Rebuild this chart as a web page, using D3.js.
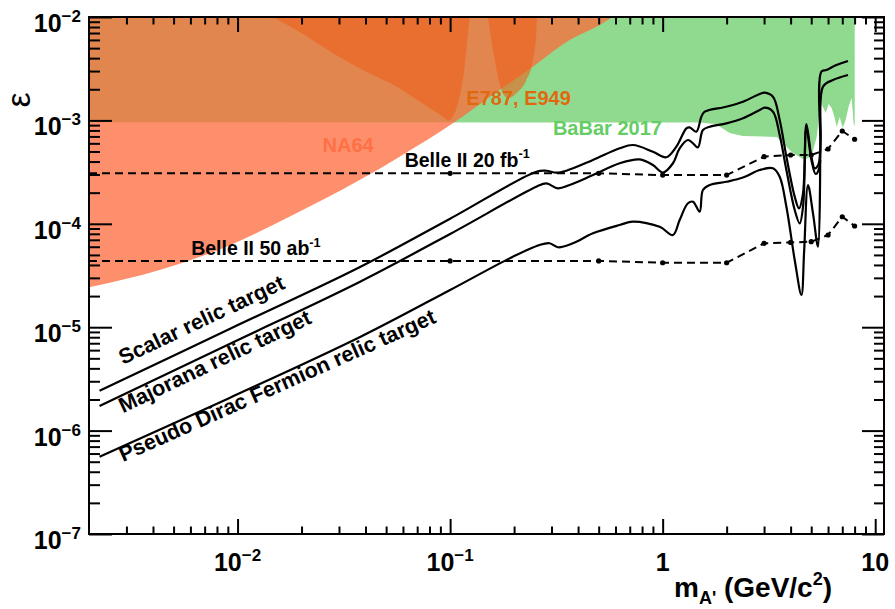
<!DOCTYPE html>
<html>
<head>
<meta charset="utf-8">
<script src="https://cdn.jsdelivr.net/npm/d3@7"></script>
<style>
  html, body { margin: 0; padding: 0; background: #fff; }
  svg { display: block; font-family: "Liberation Sans", Arial, Helvetica, sans-serif; font-weight: bold; }
</style>
</head>
<body>
<div id="chart"></div>
<script>
(function () {
  "use strict";

  // ---- data ----
  var na64Mass = [0.002, 0.0043, 0.00885, 0.0182, 0.0375, 0.0579, 0.1031, 0.171, 0.2453, 0.3649, 0.5054, 0.5817];
  var na64Eps  = [2.43e-5, 3.57e-5, 6.0e-5, 1.217e-4, 2.65e-4, 4.46e-4, 9.37e-4, 1.968e-3, 3.31e-3, 5.99e-3, 8.37e-3, 1e-2];

  var babarMass = [0.002, 1.493, 1.776, 2.067, 2.379, 3.44, 3.67, 4.09, 4.66, 5.03, 5.305, 5.54, 5.85, 6.04, 6.24, 6.45, 6.59, 6.81, 7.03, 7.26, 7.51, 7.75, 7.92, 8.01];
  var babarEps  = [9.6e-4, 9.54e-4, 9.23e-4, 7.55e-4, 7.07e-4, 6.91e-4, 6.04e-4, 4.84e-4, 4.14e-4, 4.63e-4, 6.91e-4, 1.506e-3, 1.18e-3, 1.441e-3, 1.318e-3, 1.055e-3, 8.63e-4, 1.079e-3, 8.44e-4, 1.009e-3, 1.378e-3, 1.646e-3, 9.23e-4, 8.83e-4];

  var e787aMass = [0.01462, 0.01957, 0.028, 0.0403, 0.0579, 0.0645, 0.0801, 0.0925, 0.0985, 0.105, 0.1109, 0.117, 0.1213, 0.1235];
  var e787aEps  = [1e-2, 7.16e-3, 4.49e-3, 2.96e-3, 2.04e-3, 1.76e-3, 1.318e-3, 1.086e-3, 9.98e-4, 1.171e-3, 1.695e-3, 3.31e-3, 6.96e-3, 1e-2];
  var e787bMass = [0.1506, 0.159, 0.1679, 0.1772, 0.1871, 0.2049, 0.2284, 0.2453, 0.2544, 0.2562];
  var e787bEps  = [1e-2, 4.8e-3, 2.65e-3, 1.83e-3, 1.635e-3, 1.83e-3, 2.46e-3, 3.84e-3, 6.96e-3, 1e-2];

  var belleMass  = [0.002, 0.1, 0.5, 1, 2, 3, 4, 5, 6, 7, 8];
  var belle20Eps = [3.08e-4, 3.08e-4, 3.08e-4, 2.96e-4, 2.96e-4, 4.46e-4, 4.63e-4, 4.63e-4, 5.29e-4, 7.9e-4, 6.57e-4];
  var belle50Eps = [4.37e-5, 4.37e-5, 4.37e-5, 4.2e-5, 4.2e-5, 6.48e-5, 6.6e-5, 6.71e-5, 7.79e-5, 1.17e-4, 9.52e-5];

  var scalarMass = [0.002242, 0.00917, 0.0375, 0.1, 0.2544, 0.2836, 0.3161, 0.3523, 0.4699, 0.6276, 0.7247, 0.9002, 1.041, 1.160, 1.293, 1.340, 1.441, 1.521, 1.577, 1.994, 2.387, 2.861, 3.020, 3.304, 3.553, 3.821, 4.181, 4.379, 4.574, 4.746, 5.010, 5.192, 5.393, 5.510, 5.582, 5.893, 6.570, 7.447];
  var scalarEps  = [2.43e-6, 9.61e-6, 3.80e-5, 1.12e-4, 3.19e-4, 3.26e-4, 3.12e-4, 3.26e-4, 4.14e-4, 5.37e-4, 5.78e-4, 4.98e-4, 4.40e-4, 5.57e-4, 8.38e-4, 8.57e-4, 7.78e-4, 1.086e-3, 1.214e-3, 1.357e-3, 1.517e-3, 1.80e-3, 1.853e-3, 1.695e-3, 1.009e-3, 4.46e-4, 1.83e-4, 1.41e-4, 1.97e-4, 9.23e-4, 4.46e-4, 3.44e-4, 3.70e-4, 5.17e-4, 2.958e-3, 3.07e-3, 3.43e-3, 3.75e-3];

  var majMass = [0.002242, 0.00917, 0.0375, 0.1, 0.2544, 0.2836, 0.3216, 0.3649, 0.4699, 0.6276, 0.7795, 0.9002, 1.003, 1.118, 1.202, 1.315, 1.389, 1.466, 1.547, 1.664, 1.994, 2.387, 2.861, 3.020, 3.304, 3.553, 3.821, 4.181, 4.412, 4.584, 4.746, 5.010, 5.248, 5.452, 5.540, 5.680, 6.330, 7.447];
  var majEps  = [1.73e-6, 6.88e-6, 2.74e-5, 7.97e-5, 2.28e-4, 2.46e-4, 2.20e-4, 2.37e-4, 2.96e-4, 3.85e-4, 4.2e-4, 3.70e-4, 3.13e-4, 3.85e-4, 5.37e-4, 6.46e-4, 6.0e-4, 5.49e-4, 8.07e-4, 8.69e-4, 9.37e-4, 1.048e-3, 1.26e-3, 1.327e-3, 1.214e-3, 7.22e-4, 3.31e-4, 1.36e-4, 1.01e-4, 1.52e-4, 8.44e-4, 4.14e-4, 3.03e-4, 3.46e-4, 6.46e-4, 2.12e-3, 2.46e-3, 2.75e-3];

  var pdMass = [0.002242, 0.00917, 0.0375, 0.1, 0.1975, 0.2637, 0.2938, 0.3216, 0.3784, 0.4699, 0.6276, 0.7247, 0.968, 1.118, 1.202, 1.315, 1.389, 1.493, 1.547, 1.664, 1.994, 2.387, 2.861, 3.304, 3.553, 3.821, 4.181, 4.496, 4.634, 4.829, 5.097, 5.381, 5.510];
  var pdEps  = [5.59e-7, 2.07e-6, 7.99e-6, 2.29e-5, 4.81e-5, 6.24e-5, 6.48e-5, 5.93e-5, 6.48e-5, 8.09e-5, 9.73e-5, 1.048e-4, 9.37e-5, 7.79e-5, 1.088e-4, 1.58e-4, 1.636e-4, 1.31e-4, 2.12e-4, 2.37e-4, 2.55e-4, 2.80e-4, 3.31e-4, 3.44e-4, 2.85e-4, 1.46e-4, 4.47e-5, 2.05e-5, 5.58e-5, 2.37e-4, 1.26e-4, 6.0e-5, 4.14e-4];

  var xMajor     = [0.01, 0.1, 1, 10];
  var xTickBase  = ["10", "10", "1", "10"];
  var xTickExp   = ["\u22122", "\u22121", "", ""];
  var yMajor     = [1e-7, 1e-6, 1e-5, 1e-4, 1e-3, 1e-2];
  var yTickExp   = ["\u22127", "\u22126", "\u22125", "\u22124", "\u22123", "\u22122"];
  var xDecades   = [0.001, 0.01, 0.1, 1, 10];
  var yDecades   = [1e-7, 1e-6, 1e-5, 1e-4, 1e-3];
  var minorSteps = [2, 3, 4, 5, 6, 7, 8, 9];

  // ---- layout ----
  var W = 895, H = 609;
  var margin = { top: 17, right: 11, bottom: 75, left: 89 };

  var x = d3.scaleLog().domain([0.002, 11]).range([margin.left, W - margin.right]);
  var y = d3.scaleLog().domain([1e-7, 1e-2]).range([H - margin.bottom, margin.top]);
  var x0 = margin.left, x1 = W - margin.right, y0 = margin.top, y1 = H - margin.bottom;

  var GREEN  = "#90da90";
  var NA64_C = "rgba(254,106,59,0.75)";
  var E787_C = "rgba(238,96,27,0.6)";

  var svg = d3.select("#chart").append("svg").attr("width", W).attr("height", H);

  svg.append("defs").append("clipPath").attr("id", "plotclip")
    .append("rect").attr("x", x0).attr("y", y0).attr("width", x1 - x0).attr("height", y1 - y0);

  var plot = svg.append("g").attr("clip-path", "url(#plotclip)");

  function zip(m, e) { return m.map(function (v, i) { return [v, e[i]]; }); }
  var topEps = y.domain()[1];

  var areaSmooth = d3.area().curve(d3.curveMonotoneX)
    .x(function (d) { return x(d[0]); })
    .y0(function (d) { return y(d[1]); })
    .y1(y(topEps));
  var areaLinear = d3.area()
    .x(function (d) { return x(d[0]); })
    .y0(function (d) { return y(d[1]); })
    .y1(y(topEps));

  plot.append("path").attr("d", areaLinear(zip(babarMass, babarEps))).attr("fill", GREEN);
  plot.append("path").attr("d", areaSmooth(zip(na64Mass, na64Eps))).attr("fill", NA64_C);
  plot.append("path").attr("d", areaSmooth(zip(e787aMass, e787aEps))).attr("fill", E787_C);
  plot.append("path").attr("d", areaSmooth(zip(e787bMass, e787bEps))).attr("fill", E787_C);

  // experiment labels
  function label(mass, eps, txt, color, size) {
    return svg.append("text").attr("x", x(mass)).attr("y", y(eps))
      .attr("fill", color).attr("font-size", size).text(txt);
  }
  label(0.0251, 4.95e-4, "NA64", "#ff7045", 20);
  label(0.1192, 1.41e-3, "E787, E949", "#e0690f", 20);
  label(0.3046, 7.22e-4, "BaBar 2017", "#64cd64", 20);

  // Belle II dashed sensitivity
  var line = d3.line().x(function (d) { return x(d[0]); }).y(function (d) { return y(d[1]); });
  [belle20Eps, belle50Eps].forEach(function (eps) {
    var pts = zip(belleMass, eps);
    plot.append("path").attr("d", line(pts)).attr("fill", "none")
      .attr("stroke", "#000").attr("stroke-width", 2).attr("stroke-dasharray", "8,5");
    plot.selectAll(null).data(pts.slice(1)).enter().append("circle")
      .attr("cx", function (d) { return x(d[0]); })
      .attr("cy", function (d) { return y(d[1]); })
      .attr("r", 2.6).attr("fill", "#000");
  });

  // relic targets
  var curve = d3.line().curve(d3.curveCatmullRom.alpha(0.5))
    .x(function (d) { return x(d[0]); }).y(function (d) { return y(d[1]); });
  [[scalarMass, scalarEps], [majMass, majEps], [pdMass, pdEps]].forEach(function (c) {
    plot.append("path").attr("d", curve(zip(c[0], c[1]))).attr("fill", "none")
      .attr("stroke", "#000").attr("stroke-width", 2.2).attr("stroke-linejoin", "round");
  });

  // annotations
  function supText(mass, eps, base, exp, size) {
    var t = svg.append("text").attr("x", x(mass)).attr("y", y(eps)).attr("font-size", size).attr("fill", "#000");
    t.append("tspan").text(base);
    t.append("tspan").attr("font-size", size * 0.65).attr("dy", -size * 0.42).text(exp);
    return t;
  }
  supText(0.0611, 3.57e-4, "Belle II 20 fb", "-1", 19.5);
  supText(0.00605, 4.99e-5, "Belle II 50 ab", "-1", 19.5);

  function rotText(mass, eps, txt, angle) {
    svg.append("text")
      .attr("transform", "translate(" + x(mass) + "," + y(eps) + ") rotate(" + angle + ")")
      .attr("font-size", 21.5).attr("fill", "#000").text(txt);
  }
  rotText(0.00289, 4.31e-6, "Scalar relic target", -25.3);
  rotText(0.00289, 1.47e-6, "Majorana relic target", -25.5);
  rotText(0.00289, 4.97e-7, "Pseudo Dirac Fermion relic target", -24.0);

  // ---- axes (ticks inside on all four sides) ----
  var xMinor = [], yMinor = [];
  xDecades.forEach(function (d) {
    minorSteps.forEach(function (s) {
      var v = d * s;
      if (v > x.domain()[0] && v < x.domain()[1]) xMinor.push(v);
    });
  });
  yDecades.forEach(function (d) {
    minorSteps.forEach(function (s) { yMinor.push(d * s); });
  });

  function styleAxis(g) {
    g.select(".domain").remove();
    g.selectAll(".tick line").attr("stroke", "#000").attr("stroke-width", 2);
    g.selectAll(".tick text").remove();
  }
  var axes = svg.append("g");
  axes.append("g").attr("transform", "translate(0," + y1 + ")")
    .call(d3.axisBottom(x).tickValues(xMajor).tickSize(-15).tickFormat("")).call(styleAxis);
  axes.append("g").attr("transform", "translate(0," + y1 + ")")
    .call(d3.axisBottom(x).tickValues(xMinor).tickSize(-7.5).tickFormat("")).call(styleAxis);
  axes.append("g").attr("transform", "translate(0," + y0 + ")")
    .call(d3.axisTop(x).tickValues(xMajor).tickSize(-15).tickFormat("")).call(styleAxis);
  axes.append("g").attr("transform", "translate(0," + y0 + ")")
    .call(d3.axisTop(x).tickValues(xMinor).tickSize(-7.5).tickFormat("")).call(styleAxis);
  axes.append("g").attr("transform", "translate(" + x0 + ",0)")
    .call(d3.axisLeft(y).tickValues(yMajor).tickSize(-23).tickFormat("")).call(styleAxis);
  axes.append("g").attr("transform", "translate(" + x0 + ",0)")
    .call(d3.axisLeft(y).tickValues(yMinor).tickSize(-11).tickFormat("")).call(styleAxis);
  axes.append("g").attr("transform", "translate(" + x1 + ",0)")
    .call(d3.axisRight(y).tickValues(yMajor).tickSize(-22).tickFormat("")).call(styleAxis);
  axes.append("g").attr("transform", "translate(" + x1 + ",0)")
    .call(d3.axisRight(y).tickValues(yMinor).tickSize(-10).tickFormat("")).call(styleAxis);

  svg.append("rect").attr("x", x0).attr("y", y0).attr("width", x1 - x0).attr("height", y1 - y0)
    .attr("fill", "none").attr("stroke", "#000").attr("stroke-width", 2);

  // tick labels
  xMajor.forEach(function (v, i) {
    var t = svg.append("text").attr("x", x(v)).attr("y", y1 + 37)
      .attr("text-anchor", "middle").attr("font-size", 25).attr("fill", "#000");
    t.append("tspan").text(xTickBase[i]);
    if (xTickExp[i]) t.append("tspan").attr("font-size", 17).attr("dy", -10).text(xTickExp[i]);
  });
  yMajor.forEach(function (v, i) {
    var t = svg.append("text").attr("x", x0 - 8).attr("y", y(v) + 15)
      .attr("text-anchor", "end").attr("font-size", 25).attr("fill", "#000");
    t.append("tspan").text("10");
    t.append("tspan").attr("font-size", 17).attr("dy", -10).text(yTickExp[i]);
  });

  // axis titles
  var xt = svg.append("text").attr("x", 832).attr("y", 597)
    .attr("text-anchor", "end").attr("font-size", 28).attr("fill", "#000");
  xt.append("tspan").text("m");
  xt.append("tspan").attr("font-size", 18).attr("dy", 7).text("A'");
  xt.append("tspan").attr("dy", -7).text(" (GeV/c");
  xt.append("tspan").attr("font-size", 18).attr("dy", -12).text("2");
  xt.append("tspan").attr("dy", 12).text(")");

  svg.append("text").attr("transform", "translate(30,100) rotate(-90)")
    .attr("text-anchor", "middle").attr("font-size", 34).attr("font-weight", "normal")
    .attr("fill", "#000").text("\u03b5");
}());
</script>
</body>
</html>
